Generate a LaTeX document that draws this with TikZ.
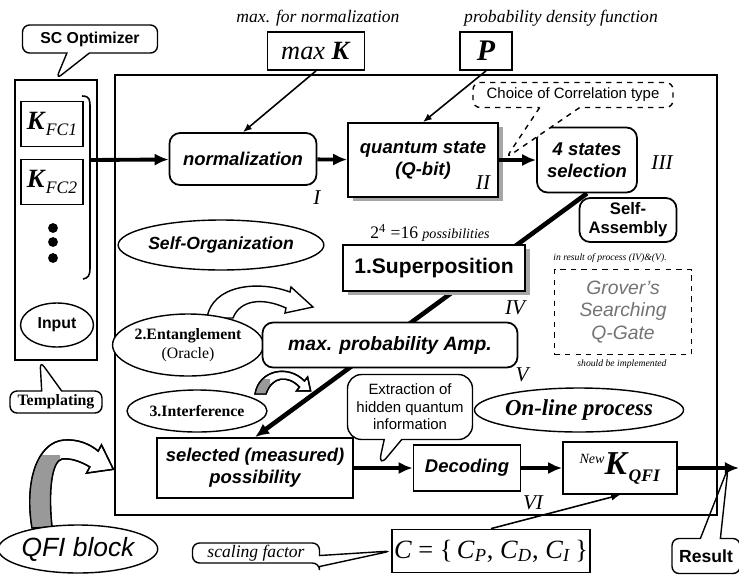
\documentclass[tikz,border=0pt]{standalone}
\usepackage{fontspec}
\setmainfont{Liberation Serif}
\setsansfont{Liberation Sans}
\usetikzlibrary{arrows.meta,shapes.geometric,shapes.callouts,shadows,backgrounds}
\def\qfibend{(32,528) .. controls (24,480) and (38,442) .. (64,440) .. controls (78,439) and (90,444) .. (98.2,451.1) -- (101.5,444.9) -- (113.4,469.3) -- (86.5,473.1) -- (89.8,466.9) .. controls (80,461) and (70,458) .. (62,459) .. controls (52,461) and (48,490) .. (52,527) -- cycle}
\def\interbend{(255,394) .. controls (259,370) and (288,364) .. (304.5,381) -- (307.6,377) -- (310.6,390.8) -- (296.4,391) -- (299.5,387) .. controls (288,375) and (272,376) .. (266,394) -- cycle}

\begin{document}
\begin{tikzpicture}[x=0.02cm, y=-0.02cm,
	box/.style={draw, line width=1pt, fill=white, align=center, inner sep=1pt,
		font=\sffamily\bfseries\itshape\fontsize{10.5}{12.5}\selectfont},
	rbox/.style={box, rounded corners=6pt},
	oval/.style={draw, line width=0.8pt, ellipse, fill=white, align=center, inner sep=0pt},
	bubble/.style={draw, line width=0.8pt, rectangle callout, rounded corners=4pt, fill=white, align=center, inner sep=1pt},
	boxshadow/.style={general shadow={fill=black!35, shadow xshift=3pt, shadow yshift=-2.5pt}},
	bigarrow/.style={line width=2.2pt, -{Latex[length=8pt,width=7pt]}},
	thinarrow/.style={line width=0.9pt, -{Latex[length=5pt,width=4pt]}},
	stage/.style={font=\itshape\fontsize{12}{12}\selectfont},
	note/.style={font=\itshape\fontsize{10}{12}\selectfont},
	smallnote/.style={font=\itshape\fontsize{5.5}{6}\selectfont}]
			%%%%% START %%%%%
			\useasboundingbox (0,0) rectangle (739,575);
			
			\draw[line width=0.9pt] (115,75) rectangle (717,515);
			
			%%%%% left panel %%%%%
			\node[draw, line width=0.9pt, minimum width=1.64cm, minimum height=5.6cm] (panel) at (56,220) {};
			\node[draw, line width=0.9pt, minimum width=1.22cm, minimum height=0.9cm] (kfc1) at (52,124)
				{\fontsize{15}{15}\selectfont\textbf{\textit{K}}\raisebox{-3pt}{\fontsize{10}{10}\selectfont\textit{FC1}}};
			\node[draw, line width=0.9pt, minimum width=1.22cm, minimum height=0.9cm] (kfc2) at (52,182)
				{\fontsize{15}{15}\selectfont\textbf{\textit{K}}\raisebox{-3pt}{\fontsize{10}{10}\selectfont\textit{FC2}}};
			\fill (53,228) circle (2.8pt);
			\fill (53,242) circle (2.8pt);
			\fill (53,258) circle (2.8pt);
			\draw[line width=0.9pt] (82,96) .. controls (90,96) and (90,100) .. (90,108) -- (90,268) .. controls (90,276) and (88,278) .. (83,279);
			\coordinate (brace) at (91,160);
			\node[oval, minimum width=1.46cm, minimum height=0.88cm, font=\sffamily\bfseries\fontsize{9}{10}\selectfont] (input) at (57,325) {Input};
			\node[bubble, callout absolute pointer={(panel.north)}, callout pointer width=0.45cm, minimum width=2.7cm, minimum height=0.56cm,
				font=\sffamily\bfseries\fontsize{9}{10}\selectfont] (sc) at (90,39) {SC Optimizer};
			\coordinate (tplTip) at (40,361);
			\node[bubble, callout absolute pointer={(tplTip)}, callout pointer width=0.4cm, minimum width=1.84cm, minimum height=0.44cm,
				font=\rmfamily\bfseries\fontsize{9}{10}\selectfont] (tpl) at (56,402) {Templating};
			
			%%%%% bent arrows %%%%%
			\draw[line width=0.8pt, fill=white] \qfibend;
			\begin{scope}
				\clip (20,455) rectangle (60,540);
				\fill[black!40] \qfibend;
			\end{scope}
			\draw[line width=0.8pt] \qfibend;
			\draw[line width=0.8pt, fill=white] (207,318) .. controls (212,285) and (258,280) .. (290,292) -- (291,287) -- (313,307) -- (285,313) -- (286,308) .. controls (262,297) and (240,300) .. (233,318) -- cycle;
			\draw[line width=0.8pt, fill=white] \interbend;
			\begin{scope}
				\clip (240,379) rectangle (270,400);
				\fill[black!40] \interbend;
			\end{scope}
			\draw[line width=0.8pt] \interbend;
			
			%%%%% top row %%%%%
			\node[note] (maxnote) at (318,18) {max. for normalization};
			\node[note] (pdfnote) at (561,18) {probability density function};
			\node[box, font=\rmfamily\fontsize{15}{15}\selectfont, minimum width=1.94cm, minimum height=0.76cm] (maxk) at (316,51) {\textit{max} \textbf{\textit{K}}};
			\node[box, font=\rmfamily\bfseries\itshape\fontsize{17}{17}\selectfont, minimum width=1.04cm, minimum height=0.76cm] (pbox) at (486,51) {P};
			\node[rbox, minimum width=2.94cm, minimum height=1.04cm] (norm) at (243,159) {normalization};
			\node[box, boxshadow, minimum width=3cm, minimum height=1.48cm] (qstate) at (423,160) {quantum state\\(Q-bit)};
			\node[rbox, minimum width=2cm, minimum height=1.3cm] (sel4) at (587,160) {4 states\\selection};
			\coordinate (corrTip) at (506,158);
			\node[bubble, dashed, callout absolute pointer={(corrTip)}, callout pointer width=0.8cm, minimum width=4cm, minimum height=0.5cm,
				font=\sffamily\fontsize{8.5}{10}\selectfont] (corr) at (573,95) {Choice of Correlation type};
			\node[stage] (lblI) at (317,198) {I};
			\node[stage] (lblII) at (483,183) {II};
			\node[stage] (lblIII) at (662,163) {III};
			
			%%%%% middle %%%%%
			\node[oval, minimum width=3.86cm, minimum height=1cm, font=\sffamily\bfseries\itshape\fontsize{10}{12}\selectfont] (selforg) at (221,245) {Self-Organization};
			\node[font=\rmfamily\fontsize{10}{12}\selectfont] (possib) at (430,233) {2\textsuperscript{4} =16 \textit{\fontsize{8}{10}\selectfont possibilities}};
			\node[box, boxshadow, font=\sffamily\bfseries\fontsize{12}{14}\selectfont, minimum width=3.64cm, minimum height=0.92cm] (superpos) at (434,268) {1.Superposition};
			\node[rbox, font=\sffamily\bfseries\fontsize{9.5}{11}\selectfont, minimum width=1.94cm, minimum height=0.88cm] (selfasm) at (628,220) {Self-\\Assembly};
			\node[smallnote] (resnote) at (610,258) {in result of process (IV)\&(V).};
			\node[draw, dashed, line width=0.9pt, align=center, text=black!55, font=\sffamily\itshape\fontsize{11}{13}\selectfont,
				minimum width=2.74cm, minimum height=1.7cm] (grover) at (623,312) {Grover's\\Searching\\Q-Gate};
			\node[smallnote] (implnote) at (622,364) {should be implemented};
			\node[oval, minimum width=2.74cm, minimum height=1.24cm, font=\rmfamily\fontsize{9}{11}\selectfont] (entangle) at (188,345) {\textbf{2.Entanglement}\\(Oracle)};
			\node[rbox, font=\sffamily\bfseries\itshape\fontsize{11}{13}\selectfont, minimum width=5.1cm, minimum height=0.9cm] (maxamp) at (390,345) {max. probability Amp.};
			\node[stage] (lblIV) at (515,308) {IV};
			\node[stage] (lblV) at (522,375) {V};
			\node[oval, minimum width=2.8cm, minimum height=0.84cm, font=\rmfamily\bfseries\fontsize{9}{11}\selectfont] (interf) at (197,411) {3.Interference};
			
			%%%%% bottom row %%%%%
			\node[box, minimum width=3.92cm, minimum height=1.2cm] (selected) at (255,468) {selected (measured)\\possibility};
			\coordinate (extTip) at (378,468);
			\node[bubble, rounded corners=8pt, callout absolute pointer={(extTip)}, callout pointer width=0.35cm, minimum width=2.5cm, minimum height=1.3cm,
				font=\sffamily\fontsize{8.5}{10}\selectfont] (extract) at (410,407) {Extraction of\\hidden quantum\\information};
			\node[oval, minimum width=3.96cm, minimum height=0.88cm, font=\rmfamily\bfseries\itshape\fontsize{13}{15}\selectfont] (online) at (579,410) {On-line process};
			\node[box, minimum width=2.14cm, minimum height=0.92cm] (decoding) at (467,468) {Decoding};
			\node[box, font=\rmfamily\fontsize{19}{19}\selectfont, minimum width=2.28cm, minimum height=1.04cm] (newk) at (620,468)
				{\raisebox{6pt}{\fontsize{8}{8}\selectfont\textit{New}}\textbf{\textit{K}}\raisebox{-4pt}{\fontsize{10}{10}\selectfont\textbf{\textit{QFI}}}};
			\node[stage] (lblVI) at (533,503) {VI};
			\node[box, font=\rmfamily\fontsize{15}{17}\selectfont, minimum width=3.96cm, minimum height=0.86cm] (cbox) at (491,551)
				{\textit{C} = \{\,\textit{C}\textsubscript{\textit{P}}, \textit{C}\textsubscript{\textit{D}}, \textit{C}\textsubscript{\textit{I}}\,\}};
			\node[bubble, callout absolute pointer={(cbox.west)}, callout pointer width=0.22cm, minimum width=2.54cm, minimum height=0.4cm,
				font=\rmfamily\itshape\fontsize{10}{12}\selectfont] (scaling) at (256,553) {scaling factor};
			\node[oval, minimum width=2.74cm, minimum height=0.96cm, font=\sffamily\itshape\fontsize{15}{17}\selectfont] (qfi) at (78,549) {QFI block};
			\coordinate (resTip) at (728,468);
			\node[bubble, fill=none, callout absolute pointer={(resTip)}, callout pointer width=0.4cm, minimum width=1.36cm, minimum height=0.7cm,
				font=\sffamily\bfseries\fontsize{10}{12}\selectfont] (result) at (706,556) {Result};
			
			%%%%% connectors %%%%%
			\draw[bigarrow] (brace) -- (norm);
			\draw[bigarrow] (norm) -- (qstate);
			\draw[bigarrow] (qstate) -- (sel4);
			\draw[thinarrow] (maxk.south) -- (norm.north);
			\draw[thinarrow] (pbox.south) -- (qstate.north);
			\begin{scope}[on background layer]
				\draw[line width=2.6pt, -{Latex[length=8pt,width=7pt]}] (sel4.south) -- (selected.north);
			\end{scope}
			\draw[bigarrow] (selected) -- (decoding);
			\draw[bigarrow] (decoding) -- (newk);
			\coordinate (exit) at (739,468);
			\draw[bigarrow] (newk) -- (exit);
			\draw[thinarrow] (cbox.north) -- (newk.south);
			
			%%%%% END %%%%%
\end{tikzpicture}
\end{document}
